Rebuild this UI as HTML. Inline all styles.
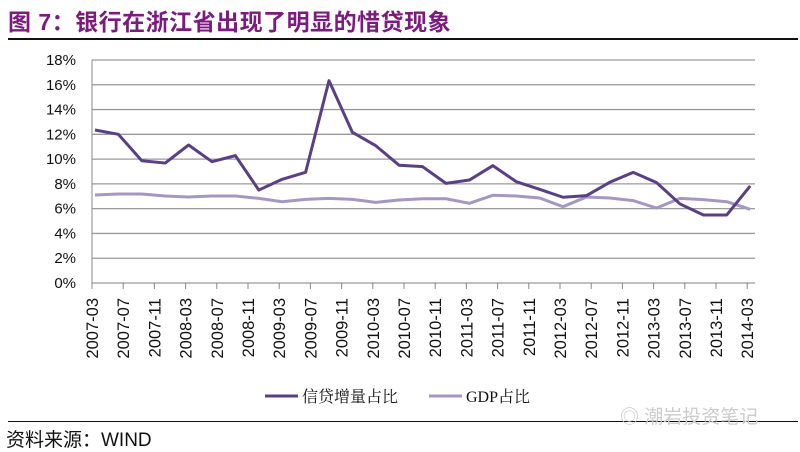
<!DOCTYPE html>
<html><head><meta charset="utf-8"><style>
body{margin:0;background:#fff;width:800px;height:445px;overflow:hidden;position:relative;font-family:"Liberation Sans","Noto Sans CJK SC",sans-serif}
#title{position:absolute;left:8px;top:3px;font-size:23px;font-weight:bold;color:#7d1a80;letter-spacing:0.5px}
.hr{position:absolute;left:8px;width:790px;height:2px;background:#111}
#src{position:absolute;left:6px;top:425px;font-size:19px;color:#111}
#wm{position:absolute;left:620px;top:402px;font-size:19px;color:#ccc;white-space:nowrap}
</style></head><body>
<div id="title">图 7：银行在浙江省出现了明显的惜贷现象</div>
<div class="hr" style="top:38px"></div>
<div class="hr" style="top:421px;height:1px"></div>
<div id="src">资料来源：WIND</div>
<div id="wm">◎ 潮岩投资笔记</div>
<svg id="chart" width="800" height="445" style="position:absolute;left:0;top:0"></svg>
<script>
const xLabels=["2007-03","2007-07","2007-11","2008-03","2008-07","2008-11","2009-03","2009-07","2009-11","2010-03","2010-07","2010-11","2011-03","2011-07","2011-11","2012-03","2012-07","2012-11","2013-03","2013-07","2013-11","2014-03"];
const yTicks=[0,2,4,6,8,10,12,14,16,18];
const credit=[12.35,12.0,9.87,9.68,11.14,9.79,10.28,7.5,8.37,8.93,16.33,12.16,11.08,9.5,9.39,8.04,8.31,9.47,8.18,7.56,6.92,7.05,8.13,8.93,8.1,6.38,5.49,5.49,7.83];
const gdp=[7.1,7.18,7.18,7.02,6.94,7.02,7.02,6.83,6.56,6.75,6.83,6.75,6.51,6.7,6.8,6.8,6.43,7.08,7.02,6.86,6.16,6.94,6.86,6.65,6.05,6.83,6.73,6.56,5.95];
const svg=document.getElementById('chart');const NS='http://www.w3.org/2000/svg';
function mk(t,a){const e=document.createElementNS(NS,t);for(const k in a)e.setAttribute(k,a[k]);svg.appendChild(e);return e;}
const x0=92,x1=755,tickStep=31.2;
const y=v=>283-v*12.39;
const xq=i=>95+i*23.4;
const xt=i=>92+i*tickStep;
yTicks.forEach(v=>{
 const g=mk('line',{x1:x0,x2:x1,y1:y(v),y2:y(v),stroke:'#9a9a9a','stroke-width':1.3});
 
 
 const t=mk('text',{x:76,y:y(v)+5,'text-anchor':'end','font-size':15,fill:'#111','font-family':'Liberation Sans'});t.textContent=v+'%';
 
 
});
const ax=mk('line',{x1:x0,x2:x0,y1:y(18),y2:y(0),stroke:'#888','stroke-width':1});


xLabels.forEach((l,i)=>{
 const tk=mk('line',{x1:xt(i),x2:xt(i),y1:283,y2:289,stroke:'#888','stroke-width':1});
 
 
 const t=mk('text',{x:0,y:0,transform:`translate(${xt(i)+6},298) rotate(-90)`,'text-anchor':'end','font-size':16.5,fill:'#111','font-family':'Liberation Sans'});t.textContent=l;
 
 
});
function line(d,c,n){const p=mk('polyline',{points:d.map((v,i)=>xq(i)+','+y(v)).join(' '),fill:'none',stroke:c,'stroke-width':3,'stroke-linejoin':'round'});
 
 }
line(gdp,'#a497c4','gdp-share-line');
line(credit,'#5a3f86','credit-share-line');
function leg(xa,c,txt,n){const l=mk('line',{x1:xa,x2:xa+33,y1:396,y2:396,stroke:c,'stroke-width':3});
 
 
 const t=mk('text',{x:xa+37,y:402,'font-size':16,fill:'#111','font-family':'Liberation Serif, Noto Serif CJK SC, serif'});t.textContent=txt;
 
 }
leg(265,'#5a3f86','信贷增量占比','legend-credit');
leg(429,'#a497c4','GDP占比','legend-gdp');
</script>
</body></html>
